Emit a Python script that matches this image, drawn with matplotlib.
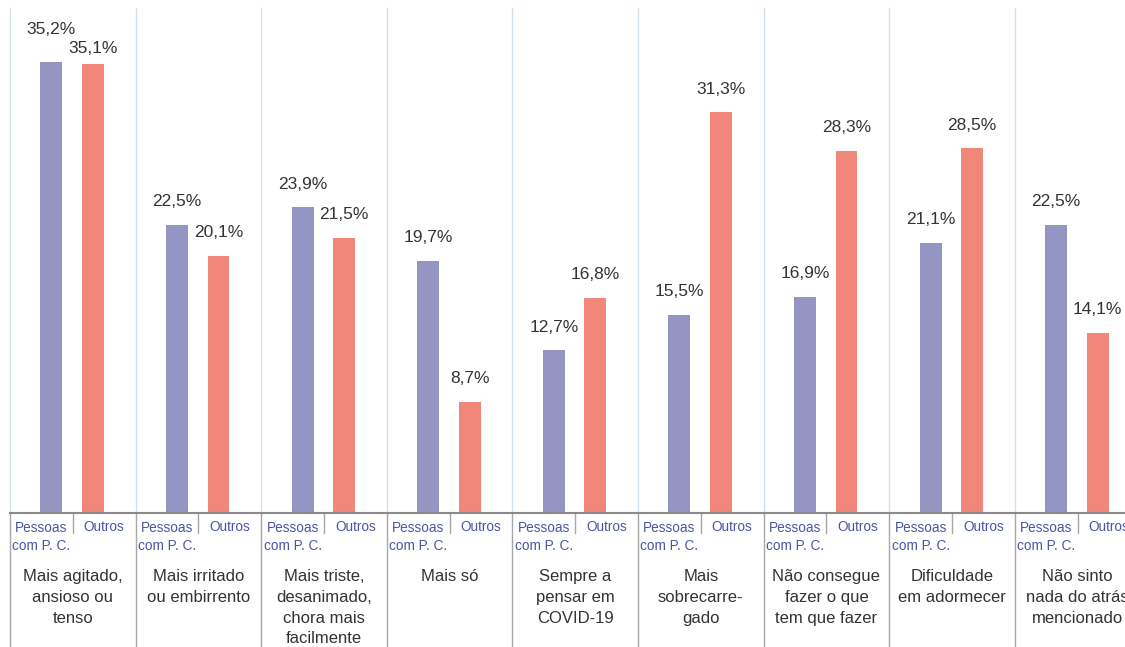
import numpy as np
import matplotlib.pyplot as plt
from matplotlib.transforms import blended_transform_factory

# categories and percentages for the two groups
categorias = [
    "Mais agitado,\nansioso ou\ntenso",
    "Mais irritado\nou embirrento",
    "Mais triste,\ndesanimado,\nchora mais\nfacilmente",
    "Mais só",
    "Sempre a\npensar em\nCOVID-19",
    "Mais\nsobrecarre-\ngado",
    "Não consegue\nfazer o que\ntem que fazer",
    "Dificuldade\nem adormecer",
    "Não sinto\nnada do atrás\nmencionado",
]
pessoas_pc = [35.2, 22.5, 23.9, 19.7, 12.7, 15.5, 16.9, 21.1, 22.5]
outros = [35.1, 20.1, 21.5, 8.7, 16.8, 31.3, 28.3, 28.5, 14.1]
grupos = ["Pessoas\ncom P. C.", "Outros"]

cor_pc = "#9595c4"
cor_outros = "#f0877a"
cor_texto = "#333333"
cor_azul = "#4a55a8"

fonte = ["Liberation Sans", "DejaVu Sans"]

fig = plt.figure(figsize=(11.25, 6.47), dpi=100)
ax = fig.add_axes([10 / 1125, 134 / 647, 1115 / 1125, 505 / 647])

n = len(categorias)
x = np.arange(n)
w = 0.175
ax.bar(x + 0.33, pessoas_pc, width=w, color=cor_pc, zorder=2)
ax.bar(x + 0.66, outros, width=w, color=cor_outros, zorder=2)

ax.set_xlim(0, 1115 / 125.6)
ax.set_ylim(0, 505 / 12.8)
ax.axis("off")

# value labels (first group nudged to avoid overlap)
nudge_pc = {0: 0.8}
nudge_ou = {0: -0.6}
for i in range(n):
    ax.text(x[i] + 0.33, pessoas_pc[i] + 1.8 + nudge_pc.get(i, 0), f"{pessoas_pc[i]:.1f}%".replace(".", ","),
            ha="center", va="center", fontsize=12.5, color=cor_texto, family=fonte)
    ax.text(x[i] + 0.66, outros[i] + 1.8 + nudge_ou.get(i, 0), f"{outros[i]:.1f}%".replace(".", ","),
            ha="center", va="center", fontsize=12.5, color=cor_texto, family=fonte)

tr = blended_transform_factory(ax.transData, ax.transAxes)
px = 1 / 505  # one pixel in axes-height units

# separators: light blue above the baseline, grey below
for i in range(n):
    ax.plot([i, i], [0, 1], color="#cfe3ea", lw=1, transform=tr, clip_on=False, zorder=1)
    ax.plot([i, i], [0, -134 * px], color="#a8a8a8", lw=1, transform=tr, clip_on=False, zorder=1)
    ax.plot([i + 0.5, i + 0.5], [0, -20 * px], color="#a8a8a8", lw=1, transform=tr, clip_on=False)
    ax.text(i + 0.25, -24 * px, grupos[0], transform=tr, ha="center", va="center",
            fontsize=9.8, color=cor_azul, family=fonte, linespacing=1.45)
    ax.text(i + 0.75, -14 * px, grupos[1], transform=tr, ha="center", va="center",
            fontsize=9.8, color=cor_azul, family=fonte)
    ax.text(i + 0.5, -56 * px, categorias[i], transform=tr, ha="center", va="top",
            fontsize=12, color=cor_texto, family=fonte, linespacing=1.48)

ax.plot([0, 1], [0, 0], color="#8a8a8a", lw=1.5, transform=ax.transAxes, clip_on=False, zorder=3)

fig.savefig("out.png", dpi=100)
